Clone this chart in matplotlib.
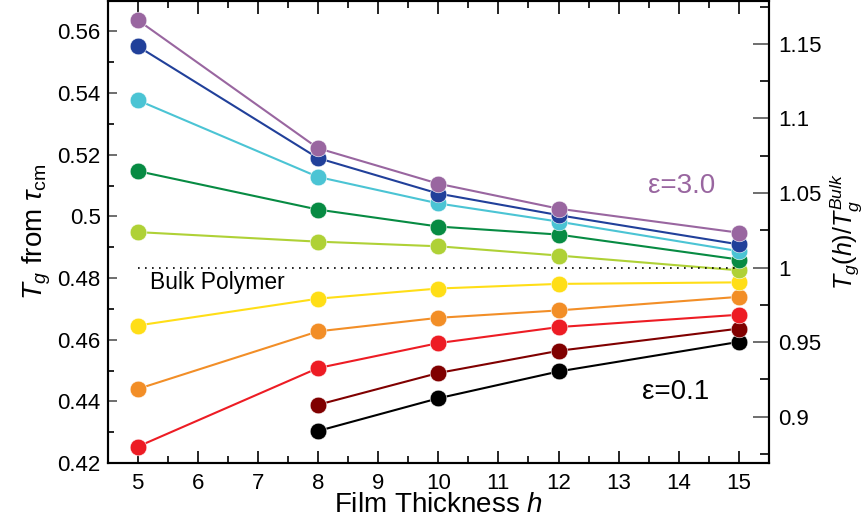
import numpy as np
import matplotlib
matplotlib.use("Agg")
import matplotlib.pyplot as plt
from matplotlib.ticker import MultipleLocator

plt.rcParams['font.family'] = ['Liberation Sans', 'DejaVu Sans']
plt.rcParams['mathtext.fontset'] = 'custom'
plt.rcParams['mathtext.rm'] = 'Liberation Sans'
plt.rcParams['mathtext.it'] = 'Liberation Sans:italic'
plt.rcParams['mathtext.bf'] = 'Liberation Sans:bold'

# film thickness values
h_full = [5, 8, 10, 12, 15]
h_short = [8, 10, 12, 15]

# Tg from tau_cm, one series per epsilon (low to high)
tg_black = [0.4304, 0.4410, 0.4497, 0.4593]
tg_darkred = [0.4389, 0.4492, 0.4564, 0.4636]
tg_red = [0.4253, 0.4508, 0.4589, 0.4641, 0.4681]
tg_orange = [0.4440, 0.4627, 0.4671, 0.4695, 0.4739]
tg_yellow = [0.4646, 0.4733, 0.4766, 0.4781, 0.4786]
tg_ygreen = [0.4949, 0.4918, 0.4903, 0.4873, 0.4825]
tg_green = [0.5147, 0.5022, 0.4967, 0.4941, 0.4860]
tg_cyan = [0.5377, 0.5128, 0.5042, 0.4983, 0.4887]
tg_blue = [0.5552, 0.5189, 0.5074, 0.5004, 0.4909]
tg_purple = [0.5637, 0.5221, 0.5106, 0.5025, 0.4947]

tg_bulk = 0.4834

series = [
    (h_short, tg_black, '#000000'),
    (h_short, tg_darkred, '#800000'),
    (h_full, tg_red, '#ed1c24'),
    (h_full, tg_orange, '#f28e27'),
    (h_full, tg_yellow, '#ffde17'),
    (h_full, tg_ygreen, '#afd136'),
    (h_full, tg_green, '#078b43'),
    (h_full, tg_cyan, '#4bc4d4'),
    (h_full, tg_blue, '#21409a'),
    (h_full, tg_purple, '#9966a0'),
]

fig = plt.figure(figsize=(8.67, 5.25), dpi=100)
ax = fig.add_axes([0.124, 0.118, 0.763, 0.881])

for h, tg, c in series:
    ax.plot(h, tg, '-', color=c, lw=1.5, marker='o', markersize=12,
            markeredgecolor='white', markeredgewidth=0.4)

ax.hlines(tg_bulk, 5, 15, colors='black', linestyles=(0, (1, 3.2)), lw=1.2)
ax.text(5.2, 0.4785, 'Bulk Polymer', fontsize=16.5, ha='left', va='center')
ax.text(14.05, 0.5098, 'ε=3.0', fontsize=20, color='#9966a0', ha='center', va='center')
ax.text(13.94, 0.4432, 'ε=0.1', fontsize=20, color='black', ha='center', va='center')

ax.set_xlim(4.5, 15.5)
ax.set_ylim(0.42, 0.570)
ax.xaxis.set_major_locator(MultipleLocator(1))
ax.xaxis.set_minor_locator(MultipleLocator(0.5))
ax.yaxis.set_major_locator(MultipleLocator(0.02))
ax.yaxis.set_minor_locator(MultipleLocator(0.01))
ax.yaxis.set_major_formatter(plt.FuncFormatter(lambda v, p: f'{v:g}'))
ax.tick_params(axis='x', which='major', direction='in', length=9, width=1.2,
               top=True, labelsize=16, pad=7)
ax.tick_params(axis='x', which='minor', direction='in', length=5, width=1.2, top=True)
ax.tick_params(axis='y', which='major', direction='in', length=6.5, width=1.2,
               color='#555555', labelsize=16, pad=4.8)
ax.tick_params(axis='y', which='minor', direction='in', length=4.5, width=1.2)
ax.set_xlabel('Film Thickness $h$', fontsize=20, labelpad=-1)
ax.set_ylabel(r'$T_g$ from $\tau_{\rm cm}$', fontsize=20, labelpad=3)

ax2 = ax.twinx()
lo, hi = ax.get_ylim()
ax2.set_ylim(lo / tg_bulk, hi / tg_bulk)
ax2.yaxis.set_major_locator(MultipleLocator(0.05))
ax2.yaxis.set_minor_locator(MultipleLocator(0.025))
ax2.yaxis.set_major_formatter(plt.FuncFormatter(lambda v, p: f'{v:g}'))
ax2.tick_params(axis='y', which='major', direction='in', length=11.5, width=1.2,
                color='#555555', labelsize=16, pad=6.5)
ax2.tick_params(axis='y', which='minor', direction='in', length=6.5, width=1.2)
ax2.set_ylabel(r'$T_g(h)/T_g^{Bulk}$', fontsize=18, labelpad=4)

for a in (ax, ax2):
    for s in a.spines.values():
        s.set_linewidth(1.5)

fig.savefig('out.png', dpi=100)
